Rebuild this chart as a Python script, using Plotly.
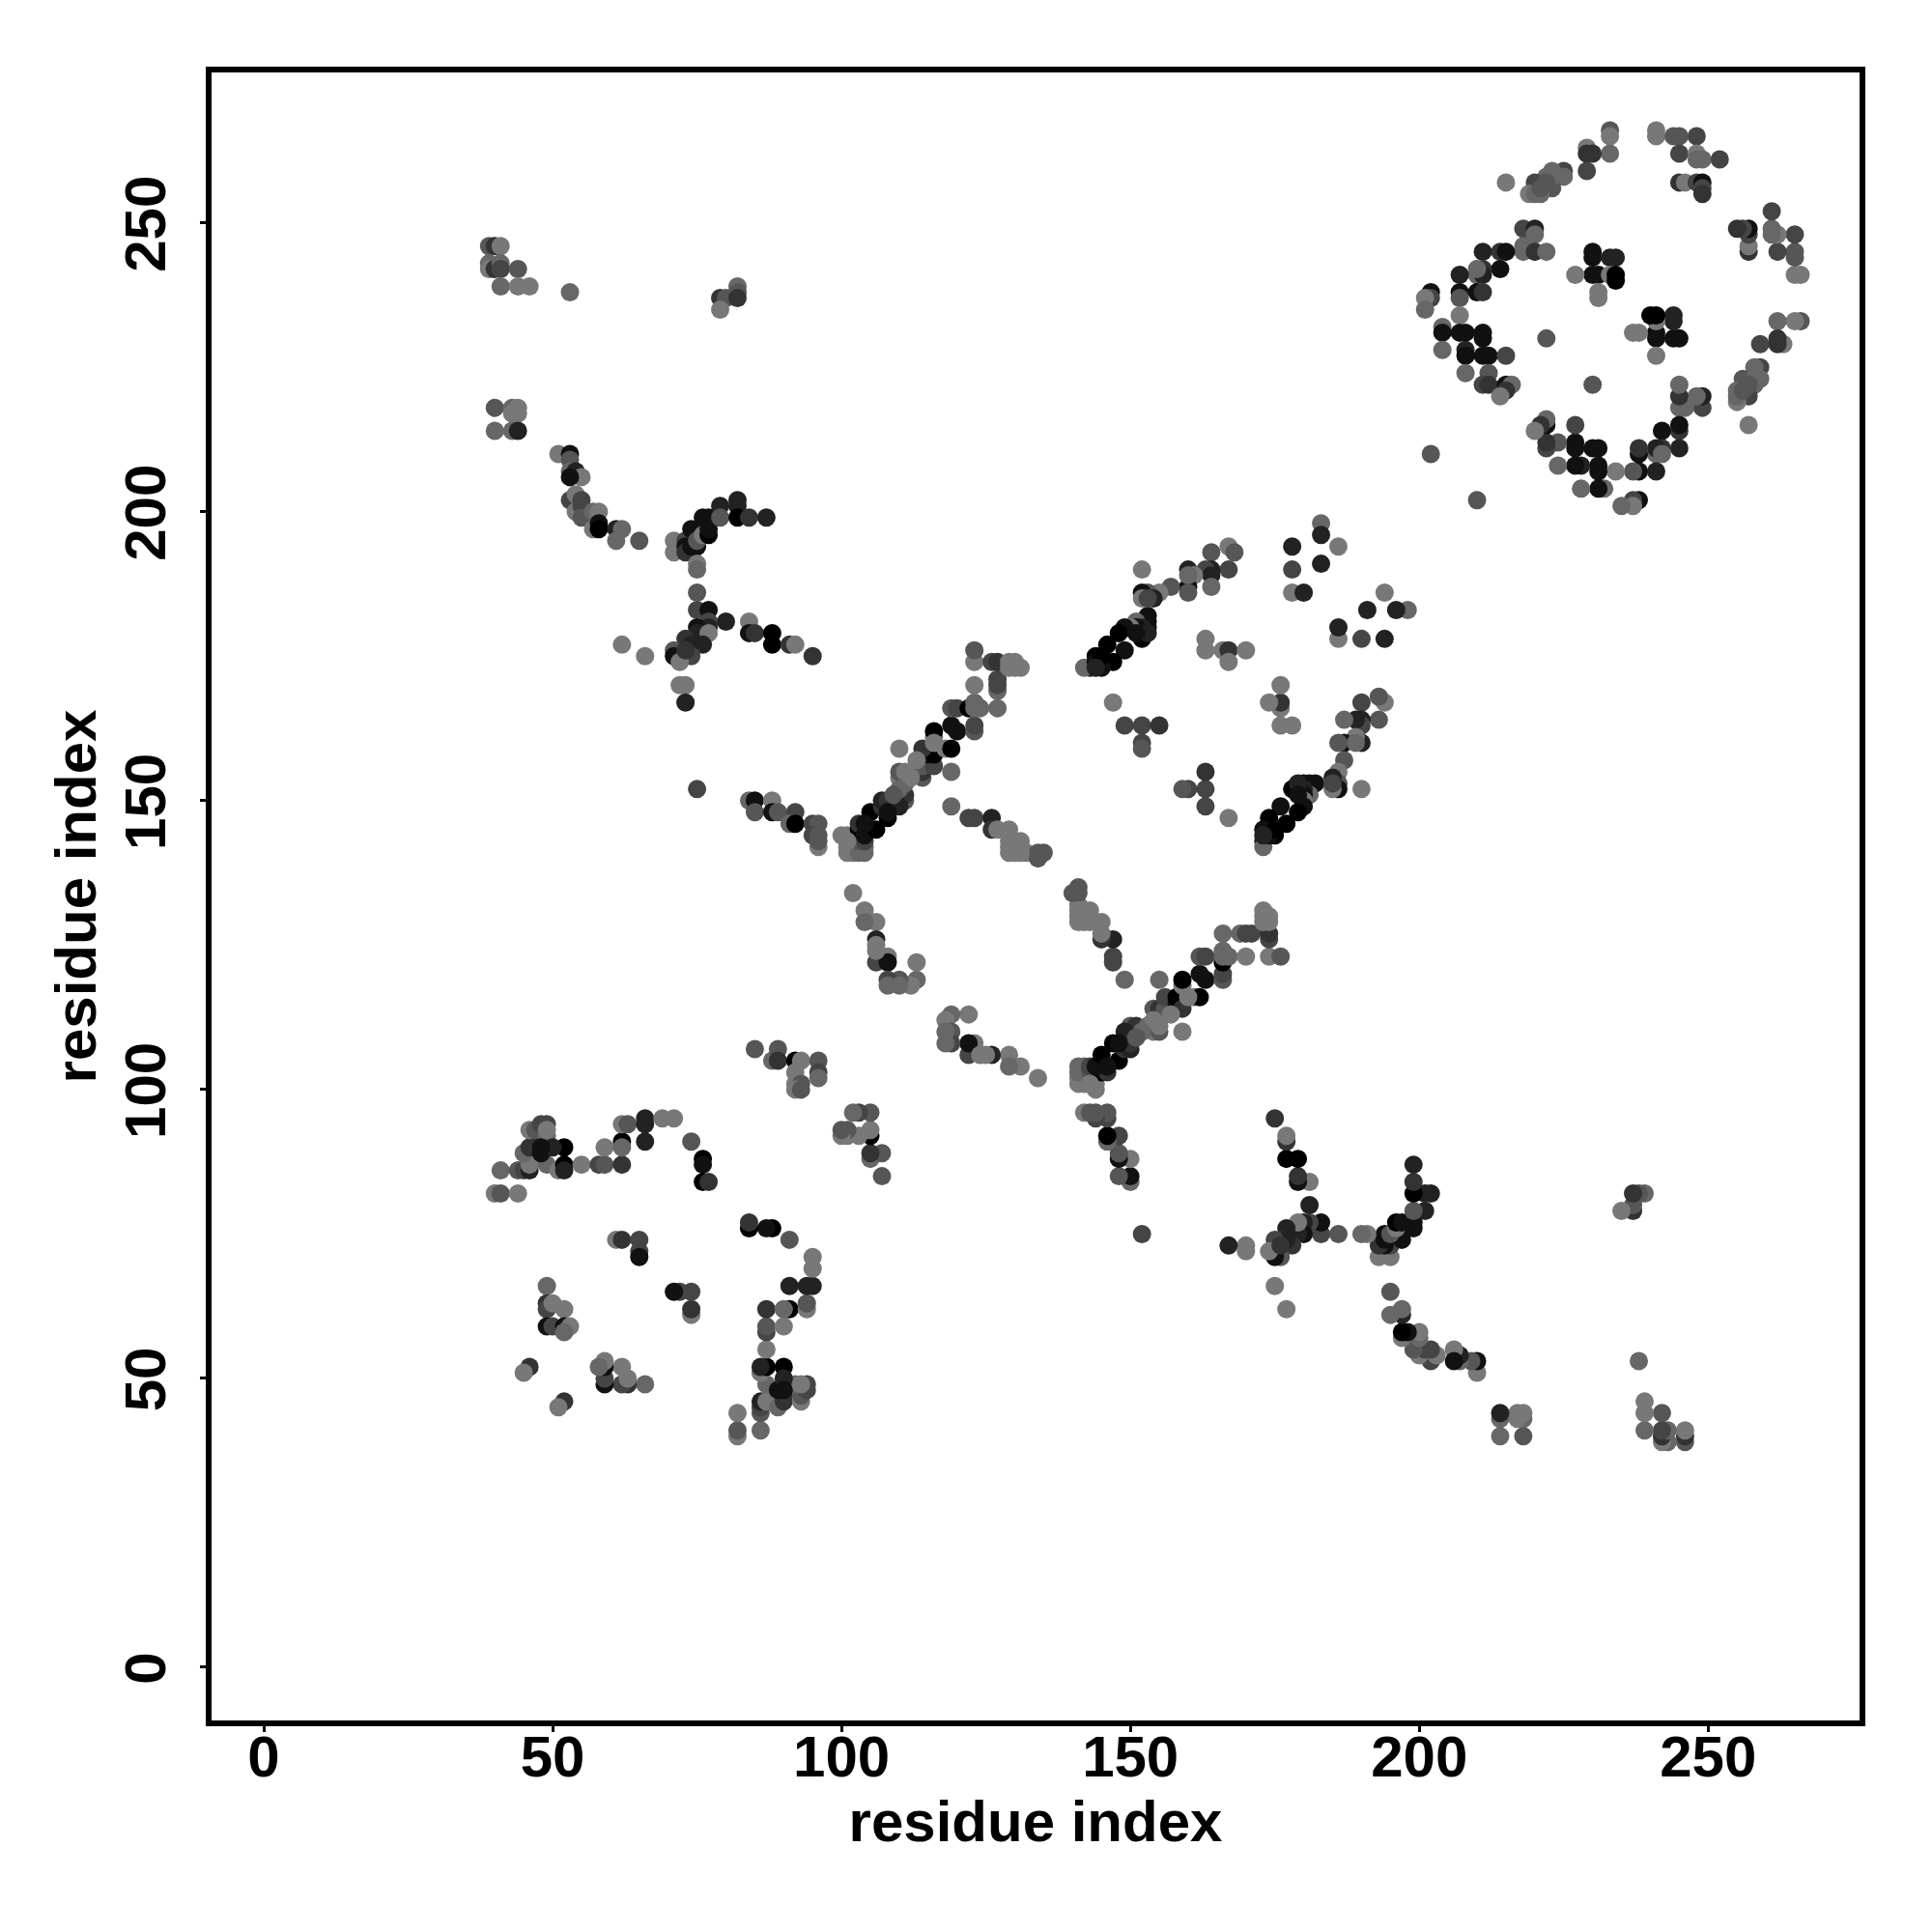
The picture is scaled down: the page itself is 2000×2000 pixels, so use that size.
import plotly.graph_objects as go

# (residue i, residue j, contact level 0 = black ... 7 = grey)
cluster_top_left = [
(39,246,5),(40,246,3),(41,246,7),(39,243,6),(39,242,7),(40,242,3),(41,243,6),(41,242,4),(44,242,5),(41,239,6),(44,239,7),(46,239,7),(53,238,6),
(79,237,3),(80,237,5),(79,235,7),(82,239,6),(82,238,5),(82,237,3),
(40,218,5),(43,218,6),(44,218,7),(44,217,7),(43,217,7),(40,214,6),(43,214,6),(44,214,2),
(51,210,7),(53,210,1),(53,209,5),(53,207,6),(54,207,2),(55,206,7),(53,206,1),(53,202,4),(54,203,7),(55,202,4),(54,200,7),(55,201,4),(55,199,5),
(57,197,7),(57,200,6),(58,200,7),(58,198,1),(58,197,0),(61,197,2),(62,197,6),(61,195,6),(65,195,5),
]
cluster_y = [
(71,195,7),(71,193,7),(73,195,4),(73,194,1),(73,193,3),(74,194,1),(75,194,1),(74,197,1),(75,195,5),(76,196,7),(77,196,0),(76,199,1),(77,199,1),(77,197,1),
(79,201,2),(79,199,5),(82,202,2),(82,201,2),(82,199,0),(84,199,3),(87,199,2),(75,191,7),(75,190,6),(75,186,5),(75,183,4),(77,183,1),(77,181,4),(80,181,2),
(77,180,2),(75,180,1),(75,179,2),(77,179,7),(73,178,3),(76,177,2),(74,176,3),(74,177,2),(71,176,5),(74,175,4),(71,175,1),(72,174,7),(73,176,3),
(84,181,7),(84,179,1),(85,179,3),(88,179,0),(88,177,0),(91,177,3),(92,177,7),(95,175,3),(62,177,7),(66,175,7),(72,170,7),(73,170,7),(73,167,2),(75,152,4),
]
cluster_strand_a = [
(84,150,6),(85,150,1),(85,148,5),(88,150,7),(88,148,1),(89,148,5),(92,148,4),(91,146,6),(92,146,0),(95,146,4),(96,146,5),(95,144,4),(96,144,5),(96,142,7),(96,143,5),
(100,144,7),(101,144,7),(101,142,7),(101,141,7),(102,141,7),(103,141,6),(104,141,6),(104,142,6),(103,143,5),(104,143,4),(103,145,0),(103,146,3),(104,144,1),
(106,145,0),(105,148,0),(107,149,3),(107,150,2),(108,147,0),(109,149,1),(110,150,2),(111,150,5),(111,151,3),
(111,153,6),(110,154,7),(110,155,5),(111,155,7),(112,155,7),(114,154,5),(114,155,3),(114,156,5),(116,156,4),(114,158,6),(115,158,1),(116,159,2),(116,158,0),
(118,159,7),(119,159,0),(114,159,3),(110,159,7),(116,161,7),(116,162,0),(119,155,6),(119,163,1),(120,162,1),(123,162,5),(123,163,4),(119,166,5),(120,166,4),
(122,166,0),(123,166,6),(124,166,6),(127,166,6),(123,167,6),(123,170,7),(127,169,6),(127,170,4),(127,171,4),(123,174,7),(123,176,5),(126,174,4),(127,174,3),
(129,174,7),(130,174,7),(129,173,7),(131,173,7),
]
cluster_strand_b = [
(119,149,6),(122,147,4),(123,147,4),(126,147,2),(126,145,3),(127,145,7),(129,145,7),(129,143,7),(130,143,7),(131,143,7),(129,141,7),(130,141,7),(132,141,7),(134,141,5),(135,141,5),(134,140,5),
(102,134,7),(104,131,7),(106,129,7),(104,129,6),(106,126,2),(106,125,7),(108,123,7),(106,122,4),(108,122,1),(113,122,7),(113,119,6),(112,118,7),(110,119,5),(108,119,4),(108,118,6),(110,118,6),
(141,135,5),(140,134,5),(141,134,5),(141,131,7),(142,131,7),(143,131,7),(141,129,7),(142,129,7),(145,129,7),(145,127,7),(145,126,3),(147,126,2),(147,123,4),(147,122,4),(149,119,6),
(122,113,7),(119,113,6),(118,112,7),(119,110,5),(118,110,7),(118,108,7),(119,108,5),(122,108,2),(123,108,7),(122,106,5),(126,106,2),(124,106,7),(129,106,7),(129,104,7),(131,104,7),(134,102,7),
(85,107,5),(88,105,6),(89,107,5),(89,105,3),(92,105,0),(93,105,7),(96,105,5),(96,103,4),(96,102,6),(92,103,7),(92,101,7),(93,101,5),(92,100,7),(93,100,5),
(142,96,7),(144,96,5),(146,96,5),(146,95,4),(146,92,0),(148,92,4),(146,91,7),(148,89,5),(148,88,0),(150,88,7),(148,85,5),(150,85,2),(150,84,5),(152,75,4),
]
cluster_diag = [
(166,127,6),(169,127,7),(170,127,4),(171,127,5),(173,131,7),(174,130,7),(173,130,7),(174,129,7),(174,127,3),(174,126,4),(162,123,5),(163,123,4),(166,124,7),(166,123,0),(167,123,7),(170,123,7),
(174,123,7),(176,123,5),(166,120,4),(166,119,4),(162,120,1),(163,119,1),(159,119,0),(159,118,7),(158,116,1),(159,116,1),(162,116,0),(160,116,7),(159,114,4),(156,116,5),(156,114,3),(155,119,6),
(154,114,6),(159,110,7),(155,111,7),(154,112,7),(155,112,7),(157,113,7),(155,110,4),(153,111,4),(151,111,3),(150,111,6),(149,110,2),(152,110,6),(150,108,3),(148,108,1),(151,109,5),(147,108,0),
(150,107,3),(148,105,0),(145,106,0),(146,104,1),(144,104,2),(145,103,2),(146,103,3),(141,104,7),(142,104,7),(141,102,7),(142,101,7),(144,100,7),(143,101,7),
]
cluster_centre = [
(183,198,6),(183,196,2),(186,194,7),(178,194,2),(178,190,4),(183,191,2),(178,186,7),(180,186,2),(194,186,7),(191,183,2),(196,183,2),(198,183,6),(186,180,2),(186,178,7),(190,178,4),(194,178,2),
(152,190,7),(167,194,7),(168,193,5),(164,193,5),(167,190,4),(164,190,2),(163,190,4),(164,189,2),(164,187,6),(160,190,2),(161,189,7),(160,187,1),(160,186,5),(157,187,5),(155,186,7),(153,186,5),
(152,186,1),(152,185,7),(154,185,2),(153,182,1),(153,181,1),(153,180,1),(151,181,6),(152,180,2),(152,178,0),(151,180,1),(150,180,7),(149,180,1),(148,179,0),(149,176,1),(146,177,0),
(144,175,0),(147,174,0),(145,173,1),(143,173,2),(142,173,6),(144,174,1),(163,178,7),(163,176,7),(166,176,7),(167,176,3),(170,176,7),(167,174,7),(176,170,7),(174,167,7),(176,167,3),
(176,166,5),(176,163,7),(178,163,7),(147,167,7),(149,163,4),(152,163,4),(155,163,3),(152,160,4),(152,159,5),(193,168,5),(190,167,4),(194,167,7),(193,164,5),(187,164,6),(189,164,2),(190,164,2),
(190,163,3),(186,160,6),(187,160,1),(189,161,7),(190,160,2),(189,160,6),(187,157,5),(186,155,7),(186,153,5),(186,152,1),(190,152,7),(185,153,4),(185,152,6),(163,155,3),(159,152,6),(160,152,4),
(163,152,4),(163,149,4),(167,147,7),(181,153,2),(180,153,2),(179,153,2),(178,152,1),(180,151,1),(179,151,1),(180,150,7),(176,149,1),(179,148,0),(174,147,0),(177,146,0),
(175,145,0),(173,145,1),(175,144,1),(173,144,2),(173,143,5),(173,142,6),
]
cluster_top_right = [
(233,266,5),(233,265,7),(241,266,7),(241,265,7),(244,265,5),(245,265,5),(248,265,4),(233,262,6),(229,263,7),(229,262,3),(230,262,3),(229,259,4),(245,262,4),(248,262,7),(249,261,6),(248,261,6),(252,261,4),
(245,257,3),(246,257,7),(248,257,4),(249,257,1),(249,256,4),(249,255,3),(225,259,4),(225,258,6),(223,259,6),(223,256,5),(222,258,6),(220,257,4),(219,255,7),(220,255,6),(221,255,6),(221,256,5),(215,257,7),
(261,252,5),(255,249,5),(256,249,6),(257,249,1),(257,248,3),(261,249,6),(261,248,6),(262,248,6),(265,248,4),(257,246,7),(257,245,3),(262,245,4),(265,245,5),(265,244,5),(265,241,7),(266,241,7),
(218,249,4),(220,249,2),(220,248,6),(218,246,6),(218,245,6),(220,245,3),(222,245,6),(211,245,2),(214,245,3),(215,245,1),(214,242,1),(210,241,6),(211,242,3),(211,241,2),(207,241,2),(207,238,1),(207,237,5),
(210,238,1),(211,238,3),(202,238,1),(202,237,4),(201,237,7),(201,235,6),(207,234,7),(204,232,6),(204,231,1),(207,231,1),(208,231,1),(211,231,1),(211,230,1),(204,228,6),(208,228,2),(208,227,1),(211,227,1),
(212,227,1),(215,227,4),(208,224,6),(212,224,5),(211,222,4),(212,222,3),(215,222,1),(216,222,6),(215,221,3),(214,220,7),
(230,245,1),(230,244,1),(233,244,2),(234,244,2),(230,241,1),(231,241,1),(233,241,7),(234,241,0),(234,240,0),(227,241,7),(231,238,7),(231,237,7),(222,230,5),(230,222,5),(202,210,5),(210,202,5),
(240,234,1),(241,234,0),(244,234,1),(244,233,2),(241,233,5),(237,231,7),(238,231,7),(241,231,1),(241,230,1),(244,230,1),(245,230,1),(241,227,7),
(262,233,5),(265,233,7),(266,233,4),(259,229,3),(262,230,4),(262,229,3),(263,229,6),(258,225,7),(259,225,5),(258,223,6),(259,223,6),(256,223,5),(255,221,6),(257,222,5),(256,221,5),(257,220,4),(255,220,6),(255,219,6),(257,215,7),
(245,222,5),(245,220,3),(248,220,7),(249,220,2),(246,218,6),(245,218,5),(249,218,4),(245,215,1),(245,214,2),(242,214,0),(245,211,2),(241,211,2),(242,211,3),(242,210,6),(238,211,2),(238,210,1),(238,207,0),(237,207,6),
(241,207,2),(234,207,7),(231,211,2),(230,211,2),(231,208,0),(231,207,0),(228,208,3),(227,208,1),(227,212,1),(227,211,1),(227,215,5),(224,212,6),(224,208,7),(222,212,2),(222,211,4),(222,216,6),(222,215,1),(221,215,2),
(220,214,7),(228,204,7),(231,204,1),(232,204,6),(235,201,6),(237,201,7),(237,202,5),(238,202,1),
]
cluster_bottom_left = [
(41,86,6),(40,82,7),(41,82,5),(44,82,7),(44,86,5),(45,86,4),(46,86,2),(46,87,7),(45,89,6),(46,90,3),(47,90,3),(46,93,7),(47,93,5),(48,94,4),(49,94,4),(49,92,6),(49,91,6),(48,88,7),(49,87,6),(48,89,1),
(51,86,7),(52,90,0),(52,87,0),(52,86,2),(55,87,7),(58,87,4),(59,87,5),(59,90,7),(62,87,3),(62,91,0),(62,90,6),(62,94,7),(63,94,5),(66,95,2),(66,94,2),(66,91,2),(69,95,7),(71,95,7),(74,91,5),(76,88,0),(76,87,1),(76,84,0),(77,84,3),
(84,77,3),(84,76,1),(87,76,0),(88,76,0),(91,74,4),(95,71,7),(95,69,7),(91,66,1),(94,66,1),(95,66,1),(94,63,4),(94,62,6),(87,62,2),(90,62,7),(91,62,0),(87,59,4),(87,58,3),(90,59,6),(87,55,7),(86,52,1),(87,52,0),(90,52,0),(86,51,7),
(87,49,6),(90,50,2),(90,48,1),(90,46,2),(91,49,6),(94,49,3),(94,48,3),(93,49,7),(93,47,5),(93,46,7),(86,46,3),(86,45,4),(86,44,4),(87,46,7),(89,45,6),(82,44,7),(82,41,5),(82,40,7),(86,41,7),
(61,74,7),(62,74,3),(65,74,4),(65,72,4),(65,71,1),(71,65,1),(72,65,5),(74,65,4),(74,62,3),(74,61,6),(49,66,6),(49,63,3),(49,62,4),(50,63,7),(52,62,7),(49,59,1),(50,59,4),(52,59,1),(53,59,7),(52,58,6),
(46,52,3),(45,51,7),(52,46,3),(51,45,7),(58,52,6),(59,53,6),(59,52,1),(59,50,5),(59,49,1),(62,52,7),(63,50,7),(62,49,3),(63,49,4),(66,49,6),
]

tick_values = [0, 50, 100, 150, 200, 250]
axis_label = "residue index"

contacts = {}
for cluster in (cluster_top_left, cluster_y, cluster_strand_a, cluster_strand_b,
                cluster_diag, cluster_centre, cluster_top_right, cluster_bottom_left):
    for i, j, level in cluster:
        contacts.setdefault((i, j), level)
        contacts.setdefault((j, i), level)

xs = [k[0] for k in contacts]
ys = [k[1] for k in contacts]
levels = list(contacts.values())

fig = go.Figure(go.Scatter(
    x=xs, y=ys, mode="markers", hoverinfo="skip",
    marker=dict(size=19, color=levels, cmin=0, cmax=7,
                colorscale=[[0, "#000000"], [1, "#787878"]],
                showscale=False, line=dict(width=0)),
))

font = dict(family="Liberation Sans", size=60, color="#000000", weight="bold")
axis = dict(showgrid=False, zeroline=False, showline=True, mirror=True,
            linecolor="#000000", linewidth=6, ticks="outside", ticklen=6,
            tickwidth=3, tickcolor="#000000", tickmode="array",
            tickvals=tick_values, ticktext=[str(v) for v in tick_values],
            tickfont=font)

fig.update_layout(
    width=1992, height=1992, autosize=False, showlegend=False,
    paper_bgcolor="white", plot_bgcolor="white",
    margin=dict(l=211, r=75, t=67, b=219, pad=0),
    xaxis=dict(axis, range=[-9.03, 276.2], ticklabelstandoff=-26,
               title=dict(text=axis_label, font=font, standoff=12)),
    yaxis=dict(axis, range=[-9.2, 276.04], tickangle=-90, ticklabelstandoff=12, ticklabelshift=10,
               title=dict(text=axis_label, font=font, standoff=0)),
)

fig.write_html("out.html")
